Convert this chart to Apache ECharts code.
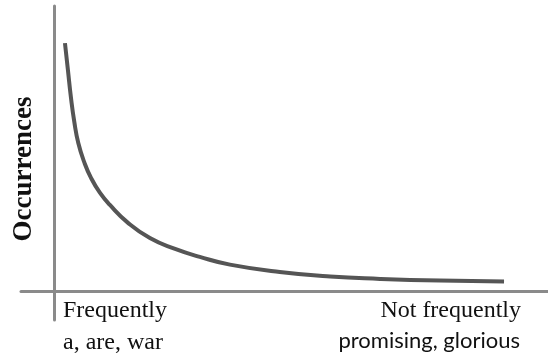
<!DOCTYPE html>
<html>
<head>
<meta charset="utf-8">
<style>
  html, body { margin: 0; padding: 0; background: #fff; }
  #chart { width: 548px; height: 358px; }
</style>
<script src="https://cdn.jsdelivr.net/npm/echarts@6/dist/echarts.min.js"></script>
</head>
<body>
<div id="chart"></div>
<script>
// word rank (left = frequent words, right = rare words)
const rankValues = [2.2, 2.8, 3.4, 4.1, 4.9, 6.1, 7.5, 9.3, 11.3, 14.8, 19.4, 24.5, 29.5, 35.6, 45.7, 55.9, 66.0, 78.1, 91.1]
// occurrences
const occurrenceValues = [87.0, 77.6, 68.1, 59.3, 52.0, 45.3, 39.7, 34.5, 30.3, 24.3, 18.7, 14.9, 12.1, 9.4, 6.8, 5.2, 4.4, 3.8, 3.5]

const leftLabels = ['Frequently', 'a, are, war']
const rightLabels = ['Not frequently', 'promising, glorious']
const yTitle = 'Occurrences'

const serif = '"Liberation Serif", "Times New Roman", serif'
const sans = 'Lato, "Open Sans", sans-serif'

const chart = echarts.init(document.getElementById('chart'))

const points = rankValues.map((x, i) => [x, occurrenceValues[i]])

const option = {
  animation: false,
  grid: { left: 21, right: 0, top: 6, bottom: 38 },
  xAxis: {
    type: 'value',
    min: -6.7,
    max: 100,
    axisLine: { onZero: true, lineStyle: { color: '#8a8a8a', width: 3 } },
    axisTick: { show: false },
    axisLabel: { show: false },
    splitLine: { show: false }
  },
  yAxis: {
    type: 'value',
    min: -10,
    max: 100,
    axisLine: { show: true, onZero: true, lineStyle: { color: '#8a8a8a', width: 3 } },
    axisTick: { show: false },
    axisLabel: { show: false },
    splitLine: { show: false }
  },
  series: [{
    type: 'line',
    data: points,
    smooth: 0.5,
    showSymbol: false,
    lineStyle: { color: '#555', width: 4, cap: 'butt' }
  }],
  graphic: [
    { type: 'text', left: 63, top: 299, style: { text: leftLabels[0], font: '24px ' + serif, fill: '#111' } },
    { type: 'text', left: 63, top: 331, style: { text: leftLabels[1], font: '24px ' + serif, fill: '#111' } },
    { type: 'text', right: 27, top: 299, style: { text: rightLabels[0], font: '24px ' + serif, fill: '#111' } },
    { type: 'text', right: 28, top: 330, style: { text: rightLabels[1], font: '22px ' + sans, fill: '#111' } },
    {
      type: 'text', x: 24, y: 169, rotation: Math.PI / 2,
      style: { text: yTitle, font: 'bold 27px ' + serif, fill: '#111', textAlign: 'center', textVerticalAlign: 'middle' }
    }
  ]
}

chart.setOption(option)
</script>
</body>
</html>
